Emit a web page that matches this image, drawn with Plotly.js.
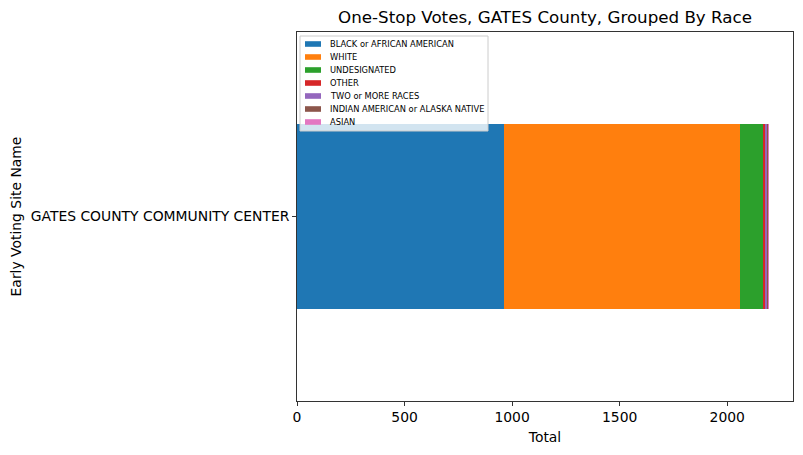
<!DOCTYPE html>
<html>
<head>
<meta charset="utf-8">
<script src="https://cdn.plot.ly/plotly-3.0.1.min.js"></script>
<style>html,body{margin:0;padding:0;background:#fff;}#chart{width:803px;height:455px;}</style>
</head>
<body>
<div id="chart"></div>
<script>
const sites = ["GATES COUNTY COMMUNITY CENTER"];
const races = ["BLACK or AFRICAN AMERICAN", "WHITE", "UNDESIGNATED", "OTHER", "TWO or MORE RACES", "INDIAN AMERICAN or ALASKA NATIVE", "ASIAN"];
const black = [962];
const white = [1098];
const undesignated = [107];
const other = [8];
const twoOrMore = [10];
const indian = [5];
const asian = [6];
const colors = ["#1f77b4", "#ff7f0e", "#2ca02c", "#d62728", "#9467bd", "#8c564b", "#e377c2"];
const seriesValues = [black, white, undesignated, other, twoOrMore, indian, asian];

const traces = races.map((name, i) => ({
  type: "bar",
  orientation: "h",
  name: name,
  y: sites,
  x: seriesValues[i],
  width: 0.8,
  marker: {color: colors[i], line: {width: 0}},
  hoverinfo: "x+name"
}));

const total = seriesValues.reduce((s, v) => s + v[0], 0);

// plot area in pixels
const W = 803, H = 455, ML = 297, MR = 10, MT = 32, MB = 54;
const PW = W - ML - MR, PH = H - MT - MB;
const px = X => (X - ML) / PW;
const py = Y => (H - MB - Y) / PH;

const font = {family: "DejaVu Sans, sans-serif", color: "#000"};

// custom legend (matplotlib style)
const shapes = [{
  type: "rect", xref: "paper", yref: "paper",
  x0: px(300), x1: px(488), y0: py(131), y1: py(36),
  fillcolor: "rgba(255,255,255,0.8)", line: {color: "#cccccc", width: 1}, layer: "above"
}];
const annotations = [];
races.forEach((name, i) => {
  const yc = 44 + 13 * i;
  shapes.push({
    type: "rect", xref: "paper", yref: "paper",
    x0: px(305), x1: px(321), y0: py(yc + 2.8), y1: py(yc - 2.8),
    fillcolor: colors[i], line: {width: 0}, layer: "above"
  });
  annotations.push({
    xref: "paper", yref: "paper", x: px(328), y: py(yc),
    xanchor: "left", yanchor: "middle", showarrow: false,
    text: name, font: {family: font.family, size: 8.3, color: "#000"}
  });
});

const layout = {
  width: W, height: H,
  margin: {l: ML, r: MR, t: MT, b: MB},
  paper_bgcolor: "#fff", plot_bgcolor: "#fff",
  barmode: "stack",
  bargap: 0,
  font: font,
  title: {text: "One-Stop Votes, GATES County, Grouped By Race", font: {family: font.family, size: 16.7, color: "#000"}, xref: "paper", x: 0.5, xanchor: "center", y: 1 - 17 / H, yanchor: "middle"},
  xaxis: {
    range: [0, total * 1.05],
    tickvals: [0, 500, 1000, 1500, 2000],
    ticktext: ["0", "500", "1000", "1500", "2000"],
    ticks: "outside", ticklen: 4, tickwidth: 0.8, tickcolor: "#000",
    showgrid: false, zeroline: false,
    showline: true, linecolor: "#000", linewidth: 0.8, mirror: true,
    tickfont: {family: font.family, size: 13.9, color: "#000"},
    title: {text: "Total", font: {family: font.family, size: 13.9, color: "#000"}, standoff: 7}
  },
  yaxis: {
    type: "category",
    range: [-0.8, 0.8],
    ticks: "outside", ticklen: 4, tickwidth: 0.8, tickcolor: "#000",
    showgrid: false, zeroline: false,
    showline: true, linecolor: "#000", linewidth: 0.8, mirror: true,
    tickfont: {family: font.family, size: 13.9, color: "#000"},
    title: {text: "Early Voting Site Name", font: {family: font.family, size: 13.9, color: "#000"}, standoff: 5}
  },
  showlegend: false,
  shapes: shapes,
  annotations: annotations
};

Plotly.newPlot("chart", traces, layout, {displayModeBar: false, staticPlot: true});
</script>
</body>
</html>
